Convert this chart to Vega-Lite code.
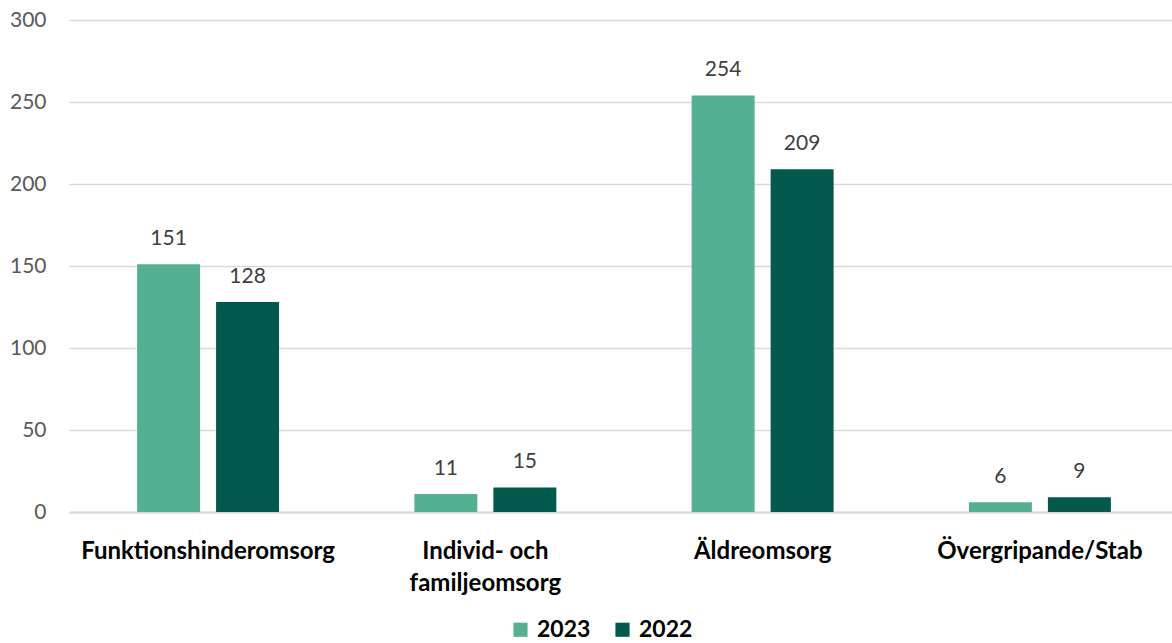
{
  "$schema": "https://vega.github.io/schema/vega-lite/v6.json",
  "width": 1103,
  "height": 492,
  "autosize": {"type": "none"},
  "padding": {"left": 69, "top": 20, "right": 0, "bottom": 131},
  "background": "white",
  "config": {
    "view": {"stroke": null},
    "font": "Lato"
  },
  "data": {
    "values": [
      {"kategori": "Funktionshinderomsorg", "year": "2023", "antal": 151},
      {"kategori": "Funktionshinderomsorg", "year": "2022", "antal": 128},
      {"kategori": "Individ- och familjeomsorg", "year": "2023", "antal": 11},
      {"kategori": "Individ- och familjeomsorg", "year": "2022", "antal": 15},
      {"kategori": "Äldreomsorg", "year": "2023", "antal": 254},
      {"kategori": "Äldreomsorg", "year": "2022", "antal": 209},
      {"kategori": "Övergripande/Stab", "year": "2023", "antal": 6},
      {"kategori": "Övergripande/Stab", "year": "2022", "antal": 9}
    ]
  },
  "encoding": {
    "x": {
      "field": "kategori",
      "type": "nominal",
      "sort": null,
      "scale": {"paddingInner": 0.488, "paddingOuter": 0.233, "align": 0.527},
      "axis": {
        "title": null,
        "labelAngle": 0,
        "labelFont": "Lato",
        "labelFontWeight": "bold",
        "labelFontSize": 24,
        "labelColor": "#000000",
        "labelPadding": 27,
        "labelLineHeight": 32,
        "labelBaseline": "top",
        "labelLimit": 0,
        "ticks": false,
        "domain": true,
        "domainColor": "#d9d9d9",
        "domainWidth": 2,
        "labelExpr": "datum.label == 'Individ- och familjeomsorg' ? ['Individ- och', 'familjeomsorg'] : datum.label"
      }
    },
    "xOffset": {
      "field": "year",
      "type": "nominal",
      "scale": {"domain": ["2023", "2022"], "paddingInner": 0.2025, "paddingOuter": 0}
    },
    "y": {
      "field": "antal",
      "type": "quantitative",
      "scale": {"domain": [0, 300], "nice": false},
      "axis": {
        "title": null,
        "values": [0, 50, 100, 150, 200, 250, 300],
        "domain": false,
        "ticks": false,
        "grid": true,
        "gridColor": "#d9d9d9",
        "gridWidth": 1.5,
        "labelFont": "Lato",
        "labelFontSize": 21,
        "labelColor": "#595959",
        "labelPadding": 23
      }
    }
  },
  "layer": [
    {
      "mark": {"type": "bar"},
      "encoding": {
        "color": {
          "field": "year",
          "type": "nominal",
          "scale": {"domain": ["2023", "2022"], "range": ["#55B093", "#03594C"]},
          "legend": {
            "title": null,
            "orient": "none",
            "direction": "horizontal",
            "legendX": 440,
            "legendY": 598,
            "padding": 0,
            "symbolType": "square",
            "symbolSize": 200,
            "symbolStrokeWidth": 0,
            "symbolOpacity": 1,
            "labelFont": "Lato",
            "labelFontWeight": "bold",
            "labelFontSize": 23,
            "labelColor": "#000000",
            "labelOffset": 5,
            "columnPadding": 20
          }
        }
      }
    },
    {
      "mark": {"type": "text", "baseline": "alphabetic", "dy": -19, "fontSize": 21, "color": "#404040", "font": "Lato"},
      "encoding": {
        "text": {"field": "antal", "type": "quantitative"}
      }
    }
  ]
}
